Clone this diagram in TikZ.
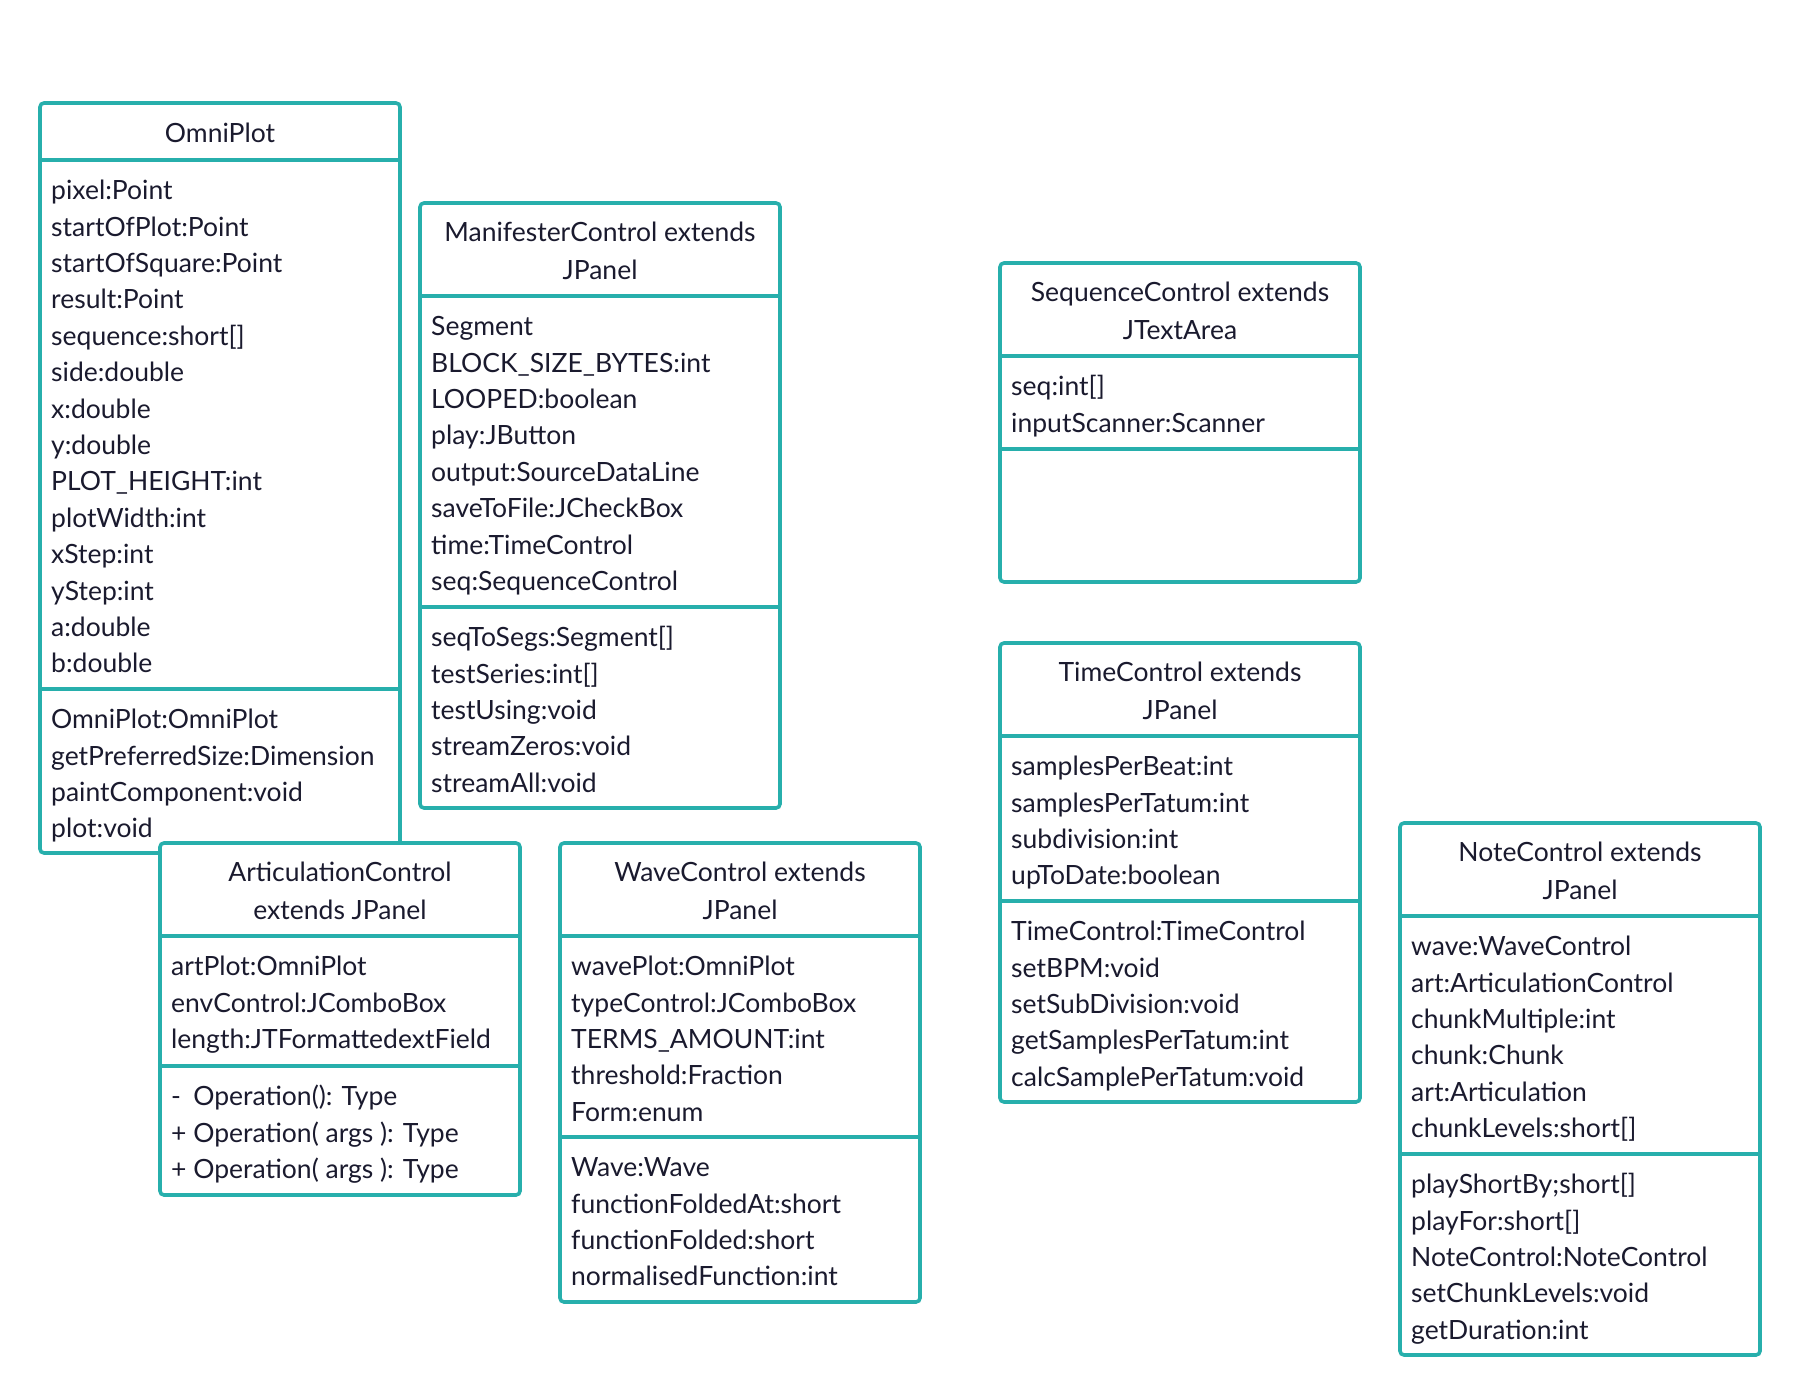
\documentclass[tikz,border=0pt]{standalone}
\usepackage{fontspec}
\setmainfont{Lato}
\usepackage{xcolor}
\usepackage{tikz}
\definecolor{umlteal}{HTML}{27AFAC}
\definecolor{umlink}{HTML}{1A1A2E}
\tikzset{
        umlbox/.style={draw=umlteal, line width=3.6pt, fill=white, rounded corners=4pt},
        umlsep/.style={draw=umlteal, line width=3.6pt},
        umltitle/.style={anchor=base, text=umlink, inner sep=0pt, font=\fontsize{26.5}{31}\selectfont},
        umlattr/.style={anchor=base west, text=umlink, inner sep=0pt, font=\fontsize{26.5}{31}\selectfont}
    }
\begin{document}
\begin{tikzpicture}[x=1pt,y=-1pt]
            \useasboundingbox (0,0) rectangle (1803,1396);
            % OmniPlot
            \draw[umlbox] (40,103) rectangle (400,853);
            \draw[umlsep] (40,160) -- (400,160) (40,689) -- (400,689);
            \node[umltitle] (omni-t) at (220,143) {OmniPlot};
            \foreach \lbl [count=\i from 0] in {pixel:Point, startOfPlot:Point, startOfSquare:Point, result:Point, sequence:short[], side:double, x:double, y:double, PLOT\_HEIGHT:int, plotWidth:int, xStep:int, yStep:int, a:double, b:double}
              \node[umlattr] (omni-a\i) at (51,{199.7+\i*36.4}) {\lbl};
            \foreach \lbl [count=\i from 0] in {OmniPlot:OmniPlot, getPreferredSize:Dimension, paintComponent:void, plot:void}
              \node[umlattr] (omni-m\i) at (51,{728.7+\i*36.4}) {\lbl};
            % ManifesterControl
            \draw[umlbox] (420,203) rectangle (780,808);
            \draw[umlsep] (420,296) -- (780,296) (420,607) -- (780,607);
            \node[umltitle] (mani-t1) at (600,241.8) {ManifesterControl extends};
            \node[umltitle] (mani-t2) at (600,279.4) {JPanel};
            \foreach \lbl [count=\i from 0] in {Segment, BLOCK\_SIZE\_BYTES:int, LOOPED:boolean, play:JButton, output:SourceDataLine, saveToFile:JCheckBox, time:TimeControl, seq:SequenceControl}
              \node[umlattr] (mani-a\i) at (431,{335.7+\i*36.4}) {\lbl};
            \foreach \lbl [count=\i from 0] in {seqToSegs:Segment[], testSeries:int[], testUsing:void, streamZeros:void, streamAll:void}
              \node[umlattr] (mani-m\i) at (431,{646.7+\i*36.4}) {\lbl};
            % SequenceControl
            \draw[umlbox] (1000,263) rectangle (1360,582);
            \draw[umlsep] (1000,356) -- (1360,356) (1000,449) -- (1360,449);
            \node[umltitle] (seq-t1) at (1180,301.8) {SequenceControl extends};
            \node[umltitle] (seq-t2) at (1180,339.4) {JTextArea};
            \foreach \lbl [count=\i from 0] in {seq:int[], inputScanner:Scanner}
              \node[umlattr] (seq-a\i) at (1011,{395.7+\i*36.4}) {\lbl};
            % TimeControl
            \draw[umlbox] (1000,643) rectangle (1360,1102);
            \draw[umlsep] (1000,736) -- (1360,736) (1000,901) -- (1360,901);
            \node[umltitle] (time-t1) at (1180,681.8) {TimeControl extends};
            \node[umltitle] (time-t2) at (1180,719.4) {JPanel};
            \foreach \lbl [count=\i from 0] in {samplesPerBeat:int, samplesPerTatum:int, subdivision:int, upToDate:boolean}
              \node[umlattr] (time-a\i) at (1011,{775.7+\i*36.4}) {\lbl};
            \foreach \lbl [count=\i from 0] in {TimeControl:TimeControl, setBPM:void, setSubDivision:void, getSamplesPerTatum:int, calcSamplePerTatum:void}
              \node[umlattr] (time-m\i) at (1011,{940.7+\i*36.4}) {\lbl};
            % NoteControl
            \draw[umlbox] (1400,823) rectangle (1760,1355);
            \draw[umlsep] (1400,916) -- (1760,916) (1400,1154) -- (1760,1154);
            \node[umltitle] (note-t1) at (1580,861.8) {NoteControl extends};
            \node[umltitle] (note-t2) at (1580,899.4) {JPanel};
            \foreach \lbl [count=\i from 0] in {wave:WaveControl, art:ArticulationControl, chunkMultiple:int, chunk:Chunk, art:Articulation, chunkLevels:short[]}
              \node[umlattr] (note-a\i) at (1411,{955.7+\i*36.4}) {\lbl};
            \foreach \lbl [count=\i from 0] in {playShortBy;short[], playFor:short[], NoteControl:NoteControl, setChunkLevels:void, getDuration:int}
              \node[umlattr] (note-m\i) at (1411,{1193.7+\i*36.4}) {\lbl};
            % WaveControl
            \draw[umlbox] (560,843) rectangle (920,1302);
            \draw[umlsep] (560,936) -- (920,936) (560,1137) -- (920,1137);
            \node[umltitle] (wave-t1) at (740,881.8) {WaveControl extends};
            \node[umltitle] (wave-t2) at (740,919.4) {JPanel};
            \foreach \lbl [count=\i from 0] in {wavePlot:OmniPlot, typeControl:JComboBox, TERMS\_AMOUNT:int, threshold:Fraction, Form:enum}
              \node[umlattr] (wave-a\i) at (571,{975.7+\i*36.4}) {\lbl};
            \foreach \lbl [count=\i from 0] in {Wave:Wave, functionFoldedAt:short, functionFolded:short, normalisedFunction:int}
              \node[umlattr] (wave-m\i) at (571,{1176.7+\i*36.4}) {\lbl};
            % ArticulationControl (on top of OmniPlot)
            \draw[umlbox] (160,843) rectangle (520,1195);
            \draw[umlsep] (160,936) -- (520,936) (160,1066) -- (520,1066);
            \node[umltitle] (art-t1) at (340,881.8) {ArticulationControl};
            \node[umltitle] (art-t2) at (340,919.4) {extends JPanel};
            \foreach \lbl [count=\i from 0] in {artPlot:OmniPlot, envControl:JComboBox, length:JTFormattedextField}
              \node[umlattr] (art-a\i) at (171,{975.7+\i*36.4}) {\lbl};
            \foreach \lbl [count=\i from 0] in {\rlap{-}\phantom{+}\ Operation(): Type, + Operation( args ): Type, + Operation( args ): Type}
              \node[umlattr] (art-m\i) at (171,{1105.7+\i*36.4}) {\lbl};
          \end{tikzpicture}
\end{document}
